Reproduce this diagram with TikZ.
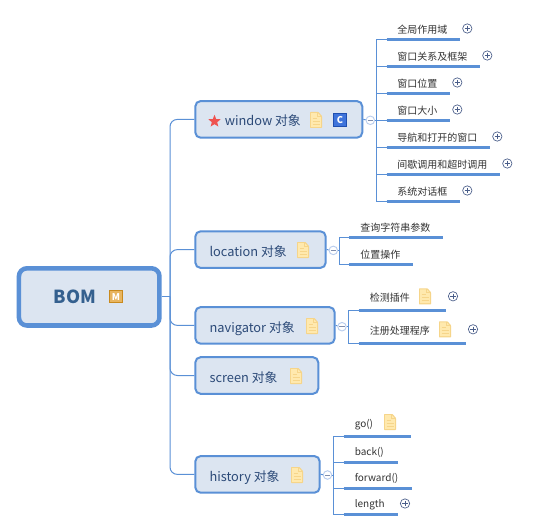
\documentclass[tikz,border=0pt]{standalone}
\usepackage{fontspec}
\setmainfont{Noto Sans CJK SC}
\usetikzlibrary{shapes.geometric}
\definecolor{mblue}{HTML}{5A90D6}
\definecolor{mfill}{HTML}{DCE5F1}
\definecolor{mtext}{HTML}{2C4A78}
\definecolor{rootext}{HTML}{34608F}
\definecolor{notefill}{HTML}{FFE9AE}
\definecolor{noteline}{HTML}{F6D58A}
\definecolor{ptext}{HTML}{333333}
\definecolor{plusc}{HTML}{4A5E8A}
\definecolor{minusc}{HTML}{B9CDEE}
\definecolor{mkfill}{HTML}{E8B560}
\definecolor{mkline}{HTML}{C98A1E}
\definecolor{cfill}{HTML}{3F74DB}
\definecolor{cline}{HTML}{1F4FB0}
\definecolor{starc}{HTML}{EF5350}
\tikzset{
 x=0.75pt,y=-0.75pt,
 root/.style={draw=mblue,fill=mfill,line width=3.4pt,rounded corners=6pt,minimum width=105.4pt,minimum height=42.9pt,inner sep=0pt,text=rootext,font=\fontsize{13.5pt}{14pt}\selectfont\bfseries},
 topic/.style={draw=mblue,fill=mfill,line width=1.5pt,rounded corners=4pt,minimum height=27.5pt,inner sep=0pt},
 lbl/.style={text=mtext,font=\fontsize{9.6pt}{11pt}\selectfont,inner sep=0pt,anchor=west,text height=8pt,text depth=2pt},
 leaf/.style={text=ptext,font=\fontsize{7.5pt}{8pt}\selectfont,inner sep=0pt,anchor=west,text height=6pt,text depth=1.5pt},
 link/.style={draw=mblue,line width=0.75pt,rounded corners=5.5pt},
 slink/.style={draw=mblue,line width=0.75pt},
 bar/.style={draw=mblue,line width=2.2pt},
 mark box/.style={line width=0.7pt,minimum size=9.3pt,inner sep=0pt,text=white,font=\fontsize{7pt}{8pt}\selectfont\bfseries},
}
\newcommand{\noteicon}[3]{%
 \node[minimum size=0pt,inner sep=0pt] (#1) at (#2,#3) {};
 \fill[noteline,rounded corners=0.4pt] (#2-6,#3-8)--(#2+2.5,#3-8)--(#2+6,#3-4)--(#2+6,#3+8)--(#2-6,#3+8)--cycle;
 \fill[notefill] (#2-4.9,#3-6.9)--(#2+1.8,#3-6.9)--(#2+4.9,#3-3.5)--(#2+4.9,#3+6.9)--(#2-4.9,#3+6.9)--cycle;
 \draw[noteline,line width=0.7pt] (#2+1.6,#3-7)--(#2+1.6,#3-3.4)--(#2+5,#3-3.4);
 \draw[noteline,line width=0.9pt] (#2-3.5,#3-1.5)--(#2+1,#3-1.5) (#2-3.5,#3+1.5)--(#2+3.5,#3+1.5) (#2-3.5,#3+4.5)--(#2+3.5,#3+4.5);}
\newcommand{\plusicon}[3]{%
 \node[circle,draw=plusc,fill=white,line width=0.5pt,minimum size=7pt,inner sep=0pt] (#1) at (#2,#3) {};
 \draw[plusc,line width=0.6pt] (#2-2.6,#3)--(#2+2.6,#3) (#2,#3-2.6)--(#2,#3+2.6);}
\newcommand{\minusicon}[3]{%
 \node[circle,draw=minusc,fill=white,line width=0.7pt,minimum size=6.4pt,inner sep=0pt] (#1) at (#2,#3) {};
 \draw[plusc!70,line width=0.5pt] (#2-2.6,#3)--(#2+2.6,#3);}
\begin{document}
\begin{tikzpicture}
\useasboundingbox (0,0) rectangle (549,531);
\fill[white] (0,0) rectangle (549,531);
\coordinate (tj) at (170,296.9);
\node[root] (bom) at (89.2,296.9) {\raisebox{-0.75pt}{BOM}\hspace*{21.5pt}};
\node[topic,minimum width=125.25pt] (win) at (278.8,119.4) {};
\node[topic,minimum width=97.8pt] (loc) at (260.5,249.6) {};
\node[topic,minimum width=104.5pt] (nav) at (265,325.4) {};
\node[topic,minimum width=92.25pt] (scr) at (256.8,375.5) {};
\node[topic,minimum width=93.3pt] (his) at (257.5,474.4) {};
\draw[slink] (bom.east) -- (tj);
\draw[link] (win.west) -- (170,119.4) -- (tj);
\draw[link] (loc.west) -- (170,249.6) -- (tj);
\draw[link] (nav.west) -- (170,325.4) -- (tj);
\draw[link] (scr.west) -- (170,375.5) -- (tj);
\draw[link] (his.west) -- (170,474.4) -- (tj);
% root marker
\node[mark box,draw=mkline,fill=mkfill] (mk) at (116,296.7) {M};
% topics
\node[star,star points=5,star point ratio=2.3,fill=starc,minimum size=9.75pt,inner sep=0pt] (st) at (214.5,121.3) {};
\node[lbl] (t1) at (224.5,122) {window 对象};
\noteicon{n1}{316}{120}
\node[mark box,draw=cline,fill=cfill] (ci) at (340,120) {C};
\node[lbl] (t2) at (209.3,252) {location 对象};
\noteicon{n2}{303}{250}
\node[lbl] (t3) at (209.3,328) {navigator 对象};
\noteicon{n3}{312}{326}
\node[lbl] (t4) at (209.3,378) {screen 对象};
\noteicon{n4}{296}{376}
\node[lbl] (t5) at (209.3,477) {history 对象};
\noteicon{n5}{297}{475}
% window branch
\minusicon{mw}{370.3}{120.3}
\coordinate (vw) at (376.5,120.3);
\draw[slink] (win.east) -- (mw);
\draw[slink] (mw) -- (vw);
\foreach \n/\y/\e/\p/\t in {a/39.3/459.5/467.3/全局作用域,b/66.3/479.5/487.3/窗口关系及框架,c/93.3/449.5/457.3/窗口位置,d/120.3/449.5/457.3/窗口大小,e/147.3/489.5/497.3/导航和打开的窗口,f/174.3/499.5/507.3/间歇调用和超时调用,g/201.3/459.5/467.3/系统对话框}{
 \coordinate (s\n) at (386.5,\y);
 \coordinate (f\n) at (\e,\y);
 \draw[slink] (vw) |- (s\n);
 \draw[bar] (s\n) -- (f\n);
 \node[leaf] (l\n) at (397,\y-9.2) {\t};
 \plusicon{p\n}{\p}{\y-10.8}
}
% location branch
\minusicon{ml}{333.3}{250.4}
\coordinate (vl) at (339.3,250.4);
\draw[slink] (loc.east) -- (ml);
\draw[slink] (ml) -- (vl);
\foreach \n/\y/\e/\t in {h/237.3/442.7/查询字符串参数,i/264.3/412.7/位置操作}{
 \coordinate (s\n) at (349.3,\y);
 \coordinate (f\n) at (\e,\y);
 \draw[slink] (vl) |- (s\n);
 \draw[bar] (s\n) -- (f\n);
 \node[leaf] (l\n) at (360,\y-9.2) {\t};
}
% navigator branch
\minusicon{mn}{342}{326.7}
\coordinate (vn) at (348.3,326.7);
\draw[slink] (nav.east) -- (mn);
\draw[slink] (mn) -- (vn);
\foreach \n/\y/\e/\ni/\p/\t in {j/310.3/445.5/425/453/检测插件,k/343.3/465.5/445/473/注册处理程序}{
 \coordinate (s\n) at (358.5,\y);
 \coordinate (f\n) at (\e,\y);
 \draw[slink] (vn) |- (s\n);
 \draw[bar] (s\n) -- (f\n);
 \node[leaf] (l\n) at (369.5,\y-12) {\t};
 \noteicon{q\n}{\ni}{\y-14}
 \plusicon{p\n}{\p}{\y-14}
}
% history branch
\minusicon{mh}{327.5}{475}
\coordinate (vh) at (333.3,475);
\draw[slink] (his.east) -- (mh);
\draw[slink] (mh) -- (vh);
\foreach \n/\y/\e/\ty/\t in {m/436.3/410.5/424.3/go(),o/462.5/397.5/452.7/back(),r/488.5/411.5/478.7/forward(),u/514.5/397.5/504.7/length}{
 \coordinate (s\n) at (343.5,\y);
 \coordinate (f\n) at (\e,\y);
 \draw[slink] (vh) |- (s\n);
 \draw[bar] (s\n) -- (f\n);
 \node[leaf] (l\n) at (354.5,\ty) {\t};
}
\noteicon{qm}{390}{422}
\plusicon{pu}{405}{503.5}
\end{tikzpicture}
\end{document}
